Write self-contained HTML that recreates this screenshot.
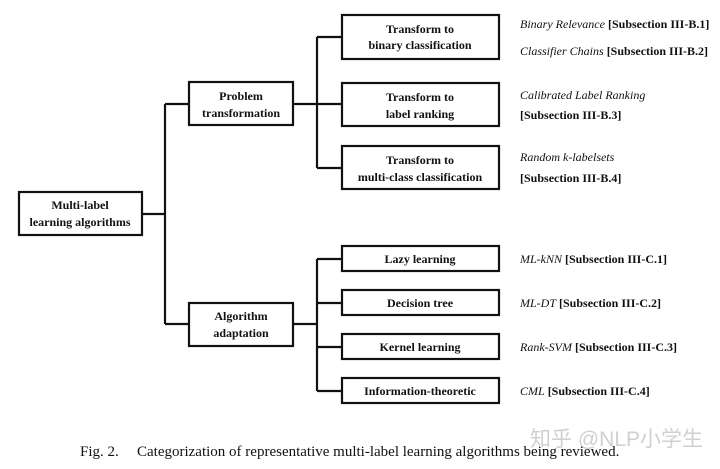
<!DOCTYPE html>
<html><head><meta charset="utf-8"><style>
body{margin:0;background:#fff;}
svg{display:block;}
text{font-family:"Liberation Serif",serif;fill:#111;}
.b{font-weight:bold;font-size:12px;}
.r{font-size:12px;}
</style></head><body>
<svg width="720" height="469" viewBox="0 0 720 469" xmlns="http://www.w3.org/2000/svg">
<g stroke="#111" stroke-width="2.2" fill="none">
<rect x="19" y="192" width="123" height="43" fill="#fff"/>
<rect x="189" y="82" width="104" height="43" fill="#fff"/>
<rect x="189" y="303" width="104" height="43" fill="#fff"/>
<rect x="342" y="15" width="157" height="44"/>
<rect x="342" y="83" width="157" height="43"/>
<rect x="342" y="146" width="157" height="43"/>
<rect x="342" y="246" width="157" height="25"/>
<rect x="342" y="290" width="157" height="25"/>
<rect x="342" y="334" width="157" height="25"/>
<rect x="342" y="378" width="157" height="25"/>
<path d="M142 214H165M165 104V324M165 104H189M165 324H189"/>
<path d="M293 104H342M317 37V168M317 37H342M317 168H342"/>
<path d="M293 324H317M317 259V391M317 259H342M317 303H342M317 347H342M317 391H342"/>
</g>
<g class="b" text-anchor="middle">
<text x="80" y="209">Multi-label</text>
<text x="80" y="226">learning algorithms</text>
<text x="241" y="100">Problem</text>
<text x="241" y="117">transformation</text>
<text x="241" y="320">Algorithm</text>
<text x="241" y="337">adaptation</text>
<text x="420" y="33">Transform to</text>
<text x="420" y="49">binary classification</text>
<text x="420" y="101">Transform to</text>
<text x="420" y="118">label ranking</text>
<text x="420" y="164">Transform to</text>
<text x="420" y="181">multi-class classification</text>
<text x="420" y="263">Lazy learning</text>
<text x="420" y="307">Decision tree</text>
<text x="420" y="351">Kernel learning</text>
<text x="420" y="395">Information-theoretic</text>
</g>
<g class="r">
<text x="520" y="28"><tspan font-style="italic">Binary Relevance</tspan> <tspan font-weight="bold">[Subsection III-B.1]</tspan></text>
<text x="520" y="55"><tspan font-style="italic">Classifier Chains</tspan> <tspan font-weight="bold">[Subsection III-B.2]</tspan></text>
<text x="520" y="99" font-style="italic">Calibrated Label Ranking</text>
<text x="520" y="119" font-weight="bold">[Subsection III-B.3]</text>
<text x="520" y="161" font-style="italic">Random k-labelsets</text>
<text x="520" y="182" font-weight="bold">[Subsection III-B.4]</text>
<text x="520" y="263"><tspan font-style="italic">ML-kNN</tspan> <tspan font-weight="bold">[Subsection III-C.1]</tspan></text>
<text x="520" y="307"><tspan font-style="italic">ML-DT</tspan> <tspan font-weight="bold">[Subsection III-C.2]</tspan></text>
<text x="520" y="351"><tspan font-style="italic">Rank-SVM</tspan> <tspan font-weight="bold">[Subsection III-C.3]</tspan></text>
<text x="520" y="395"><tspan font-style="italic">CML</tspan> <tspan font-weight="bold">[Subsection III-C.4]</tspan></text>
</g>
<text x="530" y="446" style="font-family:'Liberation Sans','Noto Sans CJK SC',sans-serif;font-size:21px;fill:#d0d0d0">知乎 @NLP小学生</text>
<text x="80" y="456" font-size="15">Fig. 2.</text>
<text x="137" y="456" font-size="15">Categorization of representative multi-label learning algorithms being reviewed.</text>
</svg>
</body></html>
